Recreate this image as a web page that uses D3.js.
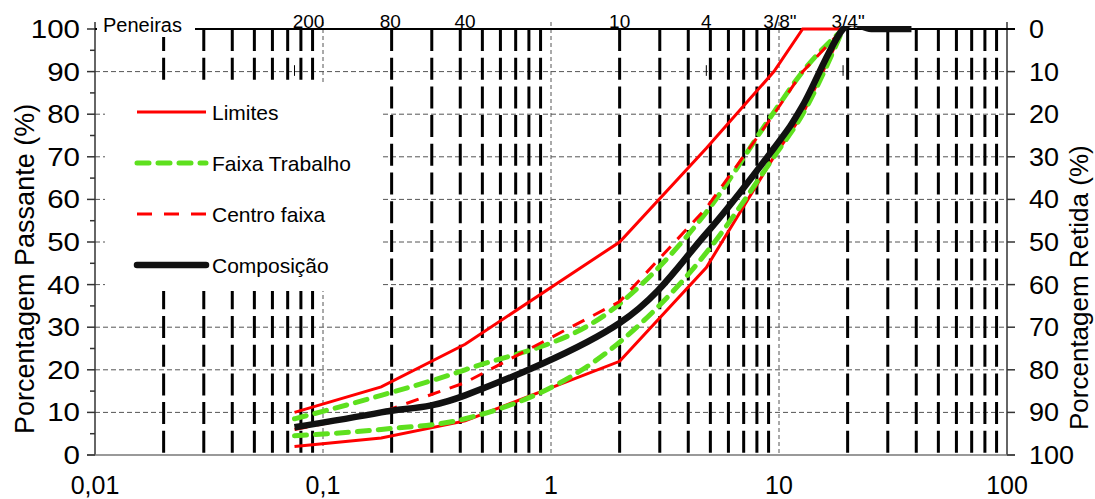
<!DOCTYPE html>
<html>
<head>
<meta charset="utf-8">
<script src="https://cdn.jsdelivr.net/npm/d3@7"></script>
<style>
  body { margin: 0; background: #fff; }
  text { font-family: "Liberation Sans", Arial, sans-serif; fill: #000; }
</style>
</head>
<body>
<div id="chart"></div>
<script>
// peneiras (mm) e porcentagens passantes
const peneiras = [0.075, 0.18, 0.42, 2.0, 4.8, 9.5, 12.7, 19.1];
const limiteSuperior = [10, 16, 26, 50, 72, 90, 100, 100];
const limiteInferior = [2, 4, 8, 22, 44, 70, 80, 100];
const faixaSuperior = [8.5, 14, 20, 35.5, 57, 80.5, 90, 100];
const faixaInferior = [4.5, 6, 8.5, 26.5, 47.5, 70, 80, 100];
const centroFaixa = [6, 10, 17, 36, 58, 80, 90, 100];

const peneirasComposicao = [0.075, 0.18, 0.42, 2.0, 4.8, 9.5, 12.7, 19.1, 25.4, 38.1];
const composicao = [6.5, 10, 14, 31, 52, 72, 82, 100, 100, 100];

const rotulosPeneiras = ["200", "80", "40", "10", "4", "3/8\"", "3/4\""];
const aberturasRotulos = [0.075, 0.18, 0.42, 2.0, 4.8, 9.5, 19.1];
const marcasPeneiras = [0.075, 4.8, 19.1];

const ticksX = [0.01, 0.1, 1, 10, 100];
const rotulosX = ["0,01", "0,1", "1", "10", "100"];
const ticksY = [0, 10, 20, 30, 40, 50, 60, 70, 80, 90, 100];
const ticksYMenor = [5, 15, 25, 35, 45, 55, 65, 75, 85, 95];

const width = 1095, height = 499;
const margem = { left: 95, right: 1007, top: 29, bottom: 455 };

const svg = d3.select("#chart")
    .append("svg")
    .attr("width", width)
    .attr("height", height)
    .attr("viewBox", `0 0 ${width} ${height}`);

const x = d3.scaleLog().domain([0.01, 100]).range([margem.left, margem.right]);
const y = d3.scaleLinear().domain([0, 100]).range([margem.bottom, margem.top]);
const yRetida = d3.scaleLinear().domain([100, 0]).range([margem.bottom, margem.top]);

// recorte para a curva suavizada não passar do topo
svg.append("defs")
    .append("clipPath")
    .attr("id", "area")
    .append("rect")
    .attr("x", 0).attr("y", margem.top - 3)
    .attr("width", width).attr("height", height);

// linhas de grade menores do eixo log (2..9 em cada década)
const menores = [];
[0.01, 0.1, 1, 10].forEach(d => {
    for (let k = 2; k <= 9; k++) menores.push(d * k);
});

const grade = svg.append("g");

grade.selectAll(".hgrid")
    .data(ticksY.filter(d => d > 0 && d < 100))
    .enter().append("line")
    .attr("x1", margem.left).attr("x2", margem.right)
    .attr("y1", d => y(d)).attr("y2", d => y(d))
    .attr("stroke", "#555")
    .attr("stroke-width", 1)
    .attr("stroke-dasharray", "5,3");

grade.selectAll(".vgrid")
    .data([0.1, 1, 10])
    .enter().append("line")
    .attr("x1", d => x(d)).attr("x2", d => x(d))
    .attr("y1", 22).attr("y2", margem.bottom)
    .attr("stroke", "#555")
    .attr("stroke-width", 1)
    .attr("stroke-dasharray", "4,3");

grade.selectAll(".vmenor")
    .data(menores)
    .enter().append("line")
    .attr("x1", d => x(d)).attr("x2", d => x(d))
    .attr("y1", margem.top).attr("y2", margem.bottom)
    .attr("stroke", "#000")
    .attr("stroke-width", 3)
    .attr("stroke-dasharray", "22,6.7");

// eixos
const eixos = svg.append("g").attr("stroke", "#333");

eixos.append("line")
    .attr("x1", margem.left).attr("x2", margem.left)
    .attr("y1", 22).attr("y2", margem.bottom)
    .attr("stroke-width", 1.5);

eixos.append("line")
    .attr("x1", margem.right).attr("x2", margem.right)
    .attr("y1", 22).attr("y2", margem.bottom)
    .attr("stroke-width", 1.5);

eixos.append("line")
    .attr("x1", margem.left - 8).attr("x2", margem.right + 8)
    .attr("y1", margem.bottom).attr("y2", margem.bottom)
    .attr("stroke", "#777")
    .attr("stroke-width", 1.5);

eixos.selectAll(".tl")
    .data(ticksY)
    .enter().append("line")
    .attr("x1", margem.left - 8).attr("x2", margem.left)
    .attr("y1", d => y(d)).attr("y2", d => y(d))
    .attr("stroke-width", 1.5);

eixos.selectAll(".tlm")
    .data(ticksYMenor)
    .enter().append("line")
    .attr("x1", margem.left - 5).attr("x2", margem.left)
    .attr("y1", d => y(d)).attr("y2", d => y(d))
    .attr("stroke-width", 1.5);

eixos.selectAll(".tr")
    .data(ticksY)
    .enter().append("line")
    .attr("x1", margem.right).attr("x2", margem.right + 8)
    .attr("y1", d => yRetida(d)).attr("y2", d => yRetida(d))
    .attr("stroke-width", 1.5);

// linha superior das peneiras
svg.append("line")
    .attr("x1", margem.left).attr("x2", margem.right + 8)
    .attr("y1", margem.top).attr("y2", margem.top)
    .attr("stroke", "#000")
    .attr("stroke-width", 2);

svg.selectAll(".marca")
    .data(marcasPeneiras)
    .enter().append("line")
    .attr("x1", d => x(d)).attr("x2", d => x(d))
    .attr("y1", y(91.5)).attr("y2", y(89))
    .attr("stroke", "#000")
    .attr("stroke-width", 1);

// rótulos dos eixos
svg.selectAll(".ly")
    .data(ticksY)
    .enter().append("text")
    .attr("transform", d => `translate(80,${y(d)}) scale(1.18,1)`)
    .attr("dy", "0.36em")
    .attr("text-anchor", "end")
    .attr("font-size", "25px")
    .text(d => d);

svg.selectAll(".ry")
    .data(ticksY)
    .enter().append("text")
    .attr("transform", d => `translate(1029,${yRetida(d)}) scale(1.08,1)`)
    .attr("dy", "0.36em")
    .attr("font-size", "25px")
    .text(d => d);

svg.selectAll(".lx")
    .data(ticksX)
    .enter().append("text")
    .attr("x", d => x(d))
    .attr("y", 494)
    .attr("text-anchor", "middle")
    .attr("font-size", "25px")
    .text((d, i) => rotulosX[i]);

svg.append("text")
    .attr("transform", "translate(34,434) rotate(-90)")
    .attr("font-size", "27px")
    .text("Porcentagem Passante (%)");

svg.append("text")
    .attr("transform", "translate(1088,430) rotate(-90)")
    .attr("font-size", "26px")
    .text("Porcentagem Retida (%)");

// rótulo "Peneiras" com fundo branco
svg.append("rect")
    .attr("x", 97).attr("y", 12)
    .attr("width", 98).attr("height", 25)
    .attr("fill", "#fff");

svg.append("text")
    .attr("x", 103).attr("y", 32)
    .attr("font-size", "20px")
    .text("Peneiras");

const ajuste = { "200": 14, "80": 9, "3/8\"": 6, "3/4\"": 5 };

svg.selectAll(".lp")
    .data(rotulosPeneiras)
    .enter().append("text")
    .attr("x", (d, i) => x(aberturasRotulos[i]) + (ajuste[d] || 0))
    .attr("y", 28)
    .attr("text-anchor", "middle")
    .attr("font-size", "19px")
    .text(d => d);

// curvas
const linha = d3.line()
    .x(d => x(d[0]))
    .y(d => y(d[1]));

const suave = d3.line()
    .x(d => x(d[0]))
    .y(d => y(d[1]))
    .curve(d3.curveMonotoneX);

// suavização no estilo do Excel para a composição
const suaveExcel = d3.line()
    .x(d => x(d[0]))
    .y(d => y(d[1]))
    .curve(d3.curveCardinal.tension(0));

const par = (xs, ys) => xs.map((d, i) => [d, ys[i]]);

const curvas = svg.append("g")
    .attr("fill", "none")
    .attr("clip-path", "url(#area)");

[limiteSuperior, limiteInferior].forEach(s => {
    curvas.append("path")
        .attr("d", linha(par(peneiras, s)))
        .attr("stroke", "#ff0000")
        .attr("stroke-width", 3);
});

[faixaSuperior, faixaInferior].forEach(s => {
    curvas.append("path")
        .attr("d", suave(par(peneiras, s)))
        .attr("stroke", "#5ee01e")
        .attr("stroke-width", 5)
        .attr("stroke-linecap", "round")
        .attr("stroke-dasharray", "12,9");
});

curvas.append("path")
    .attr("d", linha(par(peneiras, centroFaixa)))
    .attr("stroke", "#ff0000")
    .attr("stroke-width", 3)
    .attr("stroke-dasharray", "13,10");

curvas.append("path")
    .attr("d", suaveExcel(par(peneirasComposicao, composicao)))
    .attr("stroke", "#111")
    .attr("stroke-width", 6.5)
    .attr("stroke-linejoin", "round");

// legenda
const legenda = svg.append("g");

legenda.append("rect")
    .attr("x", 105).attr("y", 82)
    .attr("width", 278).attr("height", 209)
    .attr("fill", "#fff");

const itens = [
    { nome: "Limites", cor: "#ff0000", w: 3, dash: null, cap: "butt" },
    { nome: "Faixa Trabalho", cor: "#5ee01e", w: 5, dash: "12,9", cap: "round" },
    { nome: "Centro faixa", cor: "#ff0000", w: 3, dash: "15,12", cap: "butt" },
    { nome: "Composição", cor: "#111", w: 6.5, dash: null, cap: "round" }
];

const item = legenda.selectAll(".item")
    .data(itens)
    .enter().append("g")
    .attr("transform", (d, i) => `translate(0,${112 + i * 51})`);

item.append("line")
    .attr("x1", 137).attr("x2", 206)
    .attr("stroke", d => d.cor)
    .attr("stroke-width", d => d.w)
    .attr("stroke-linecap", d => d.cap)
    .attr("stroke-dasharray", d => d.dash);

item.append("text")
    .attr("x", 212)
    .attr("y", 7.5)
    .attr("font-size", "21px")
    .text(d => d.nome);
</script>
</body>
</html>
